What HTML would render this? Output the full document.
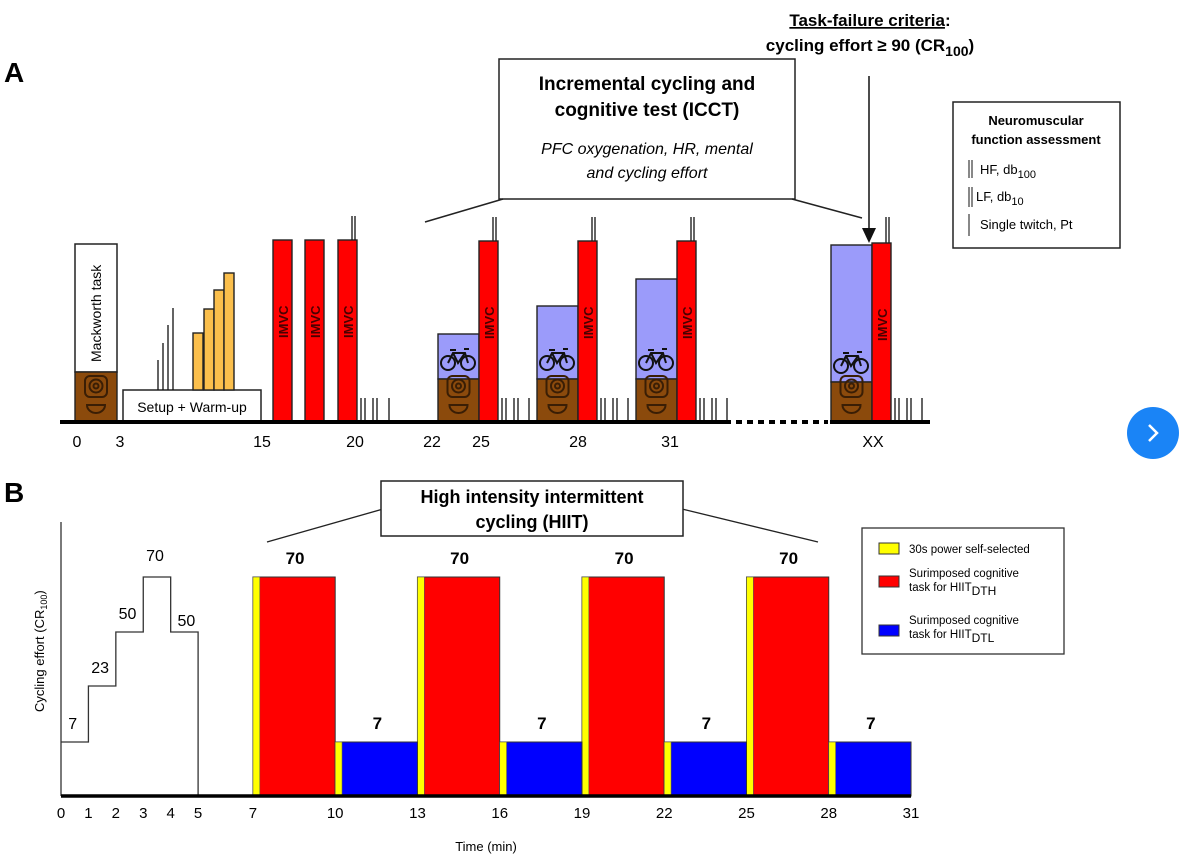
<!DOCTYPE html>
<html><head><meta charset="utf-8"><style>
html,body{margin:0;padding:0;background:#fff;}
svg{display:block;font-family:"Liberation Sans",Arial,sans-serif;}
</style></head><body>
<svg id="fig" width="1188" height="866" viewBox="0 0 1188 866" xmlns="http://www.w3.org/2000/svg">
<rect width="1188" height="866" fill="#fff"/>
<!-- Panel A -->
<text x="4" y="82" font-size="28" font-weight="bold">A</text>
<g font-weight="bold" font-size="17" text-anchor="middle">
<text x="870" y="26"><tspan text-decoration="underline">Task-failure criteria</tspan>:</text>
<text x="870" y="51">cycling effort  ≥ 90 (CR<tspan font-size="14" dy="5">100</tspan><tspan dy="-5">)</tspan></text>
</g>
<g>
<rect x="499" y="59" width="296" height="140" fill="#fff" stroke="#222" stroke-width="1.5"/>
<text x="647" y="90" font-size="19" font-weight="bold" text-anchor="middle">Incremental cycling and</text>
<text x="647" y="116" font-size="19" font-weight="bold" text-anchor="middle">cognitive test (ICCT)</text>
<text x="647" y="154" font-size="16" font-style="italic" text-anchor="middle">PFC oxygenation, HR, mental</text>
<text x="647" y="178" font-size="16" font-style="italic" text-anchor="middle">and cycling effort</text>
<line x1="503" y1="199" x2="425" y2="222" stroke="#222" stroke-width="1.5"/>
<line x1="792" y1="199" x2="862" y2="218" stroke="#222" stroke-width="1.5"/>
</g>
<g>
<line x1="869" y1="76" x2="869" y2="232" stroke="#111" stroke-width="1.5"/>
<polygon points="862,228 876,228 869,243" fill="#111"/>
</g>
<g>
<rect x="953" y="102" width="167" height="146" fill="#fff" stroke="#222" stroke-width="1.5"/>
<text x="1036" y="125" font-size="13" font-weight="bold" text-anchor="middle">Neuromuscular</text>
<text x="1036" y="144" font-size="13" font-weight="bold" text-anchor="middle">function assessment</text>
<line x1="969" y1="160" x2="969" y2="178" stroke="#111"/><line x1="972" y1="160" x2="972" y2="178" stroke="#111"/>
<text x="980" y="174" font-size="13">HF, db<tspan font-size="11" dy="4">100</tspan></text>
<line x1="969" y1="187" x2="969" y2="207" stroke="#111"/><line x1="972" y1="187" x2="972" y2="207" stroke="#111"/>
<text x="976" y="201" font-size="13">LF, db<tspan font-size="11" dy="4">10</tspan></text>
<line x1="969" y1="214" x2="969" y2="236" stroke="#111"/>
<text x="980" y="229" font-size="13">Single twitch, Pt</text>
</g>
<g id="panelA">
<rect x="75" y="244" width="42" height="128" fill="#fff" stroke="#222" stroke-width="1.5"/>
<text transform="translate(101,362) rotate(-90)" font-size="14">Mackworth task</text>
<rect x="123" y="390" width="138" height="32" fill="#fff" stroke="#222" stroke-width="1.5"/>
<text x="192" y="412" font-size="14" text-anchor="middle">Setup + Warm-up</text>
</g>
<g>
<line x1="60" y1="422" x2="731" y2="422" stroke="#000" stroke-width="4"/>
<line x1="736" y1="422" x2="828" y2="422" stroke="#000" stroke-width="4" stroke-dasharray="6,5"/>
<line x1="830" y1="422" x2="930" y2="422" stroke="#000" stroke-width="4"/>
</g>
<g id="aticks" font-size="16" text-anchor="middle"></g>

<!-- Panel B -->
<text x="4" y="502" font-size="28" font-weight="bold">B</text>
<g>
<line x1="383" y1="509" x2="267" y2="542" stroke="#222" stroke-width="1.3"/>
<line x1="682" y1="509" x2="818" y2="542" stroke="#222" stroke-width="1.3"/>
<rect x="381" y="481" width="302" height="55" fill="#fff" stroke="#222" stroke-width="1.5"/>
<text x="532" y="503" font-size="18" font-weight="bold" text-anchor="middle">High intensity intermittent</text>
<text x="532" y="528" font-size="18" font-weight="bold" text-anchor="middle">cycling (HIIT)</text>
</g>
<g>
<rect x="862" y="528" width="202" height="126" fill="#fff" stroke="#333" stroke-width="1.3"/>
<rect x="879" y="543" width="20" height="11" fill="#ffff00" stroke="#333"/>
<text x="909" y="553" font-size="11.5">30s power self-selected</text>
<rect x="879" y="576" width="20" height="11" fill="#ff0000" stroke="#333"/>
<text x="909" y="577" font-size="11.5">Surimposed cognitive</text>
<text x="909" y="591" font-size="11.5">task for HIIT<tspan font-size="12" dy="4">DTH</tspan></text>
<rect x="879" y="625" width="20" height="11" fill="#0000ff" stroke="#333"/>
<text x="909" y="624" font-size="11.5">Surimposed cognitive</text>
<text x="909" y="638" font-size="11.5">task for HIIT<tspan font-size="12" dy="4">DTL</tspan></text>
</g>
<text transform="translate(44,712) rotate(-90)" font-size="13">Cycling effort (CR<tspan font-size="9" dy="3">100</tspan><tspan dy="-3">)</tspan></text>
<text x="486" y="851" font-size="13" text-anchor="middle">Time (min)</text>
<g id="panelB"></g>

<g>
<circle cx="1153" cy="433" r="26" fill="#1a84f6"/>
<polyline points="1149,425 1157,433 1149,441" fill="none" stroke="#fff" stroke-width="2.5"/>
</g>
</svg>
<script>
// Panel B data
const warmupMinutes = [0, 1, 2, 3, 4, 5];
const warmupLevels = [7, 23, 50, 70, 50];
const hiitStarts = [7, 13, 19, 25];
const hiitHighLevel = [70, 70, 70, 70];
const recoveryStarts = [10, 16, 22, 28];
const recoveryLevel = [7, 7, 7, 7];
const xTickLabels = [0, 1, 2, 3, 4, 5, 7, 10, 13, 16, 19, 22, 25, 28, 31];
const phaseLength = 3;
const sprintLength = 0.25;

const NS = "http://www.w3.org/2000/svg";
const X0 = 61, PXMIN = 27.42, BASE = 796;
function xs(t) { return X0 + t * PXMIN; }
const lvAnchors = [0, 7, 23, 50, 70, 100];
const hAnchors = [0, 54, 110, 164, 219, 300];
function ys(v) {
  for (let i = 1; i < lvAnchors.length; i++) {
    if (v <= lvAnchors[i]) {
      const f = (v - lvAnchors[i-1]) / (lvAnchors[i] - lvAnchors[i-1]);
      return BASE - (hAnchors[i-1] + f * (hAnchors[i] - hAnchors[i-1]));
    }
  }
  return BASE - hAnchors[hAnchors.length-1];
}
function mk(tag, attrs, parent) {
  const e = document.createElementNS(NS, tag);
  for (const k in attrs) e.setAttribute(k, attrs[k]);
  parent.appendChild(e);
  return e;
}
const gB = document.getElementById('panelB');

let ax = mk('line', {x1: X0, y1: 522, x2: X0, y2: BASE, stroke: '#333', 'stroke-width': 1.3}, gB);



let d = 'M' + xs(warmupMinutes[0]) + ',' + ys(warmupLevels[0]);
for (let i = 0; i < warmupLevels.length; i++) {
  if (i > 0) d += ' L' + xs(warmupMinutes[i]) + ',' + ys(warmupLevels[i]);
  d += ' L' + xs(warmupMinutes[i+1]) + ',' + ys(warmupLevels[i]);
}
d += ' L' + xs(warmupMinutes[warmupMinutes.length-1]) + ',' + BASE;
let wp = mk('path', {d: d, fill: 'none', stroke: '#333', 'stroke-width': 1.3}, gB);


warmupLevels.forEach((v, i) => {
  const cx = (xs(warmupMinutes[i]) + xs(warmupMinutes[i+1])) / 2;
  let tx;
  if (i === warmupLevels.length - 1) tx = mk('text', {x: cx + 2, y: ys(v) - 6, 'font-size': 16, 'text-anchor': 'middle'}, gB);
  else tx = mk('text', {x: cx - 2, y: ys(v) - 13 + (i===3?-3:0), 'font-size': 16, 'text-anchor': 'middle'}, gB);
  tx.textContent = v;
  
  
});

hiitStarts.forEach((s, i) => {
  const v = hiitHighLevel[i];
  let r = mk('rect', {x: xs(s), y: ys(v), width: xs(s + phaseLength) - xs(s), height: BASE - ys(v), fill: '#ff0000', stroke: '#333', 'stroke-width': 1}, gB);
  
  
  let y = mk('rect', {x: xs(s), y: ys(v), width: xs(s + sprintLength) - xs(s), height: BASE - ys(v), fill: '#ffff00', stroke: '#555', 'stroke-width': 0.6}, gB);
  
  
  let t = mk('text', {x: xs(s + phaseLength / 2) + 1, y: ys(v) - 13, 'font-size': 17, 'font-weight': 'bold', 'text-anchor': 'middle'}, gB);
  t.textContent = v;
  
  
});
recoveryStarts.forEach((s, i) => {
  const v = recoveryLevel[i];
  let r = mk('rect', {x: xs(s), y: ys(v), width: xs(s + phaseLength) - xs(s), height: BASE - ys(v), fill: '#0000ff', stroke: '#333', 'stroke-width': 1}, gB);
  
  
  let y = mk('rect', {x: xs(s), y: ys(v), width: xs(s + sprintLength) - xs(s), height: BASE - ys(v), fill: '#ffff00', stroke: '#555', 'stroke-width': 0.6}, gB);
  
  
  let t = mk('text', {x: xs(s + phaseLength / 2) + 1, y: ys(v) - 13, 'font-size': 17, 'font-weight': 'bold', 'text-anchor': 'middle'}, gB);
  t.textContent = v;
  
  
});
let bl = mk('line', {x1: X0, y1: BASE, x2: xs(31), y2: BASE, stroke: '#000', 'stroke-width': 3.5}, gB);


xTickLabels.forEach(v => {
  let t = mk('text', {x: xs(v), y: 818, 'font-size': 15, 'text-anchor': 'middle'}, gB);
  t.textContent = v;
  
  
});

// Panel A
const gA = document.getElementById('panelA');
const BA = 422;
function camera(x, w) {
  const cx = x + w / 2;
  const g = mk('g', {fill: 'none', stroke: '#3a1e05', 'stroke-width': 2}, gA);
  
  
  mk('rect', {x: cx - 11, y: BA - 46, width: 22, height: 21, rx: 5}, g);
  mk('circle', {cx: cx, cy: BA - 36, r: 6.5}, g);
  mk('circle', {cx: cx, cy: BA - 36, r: 2.5}, g);
  mk('path', {d: `M${cx-9},${BA-17} A9,8 0 0 0 ${cx+9},${BA-17} Z`}, g);
}
function bike(cx, cy) {
  const g = mk('g', {fill: 'none', stroke: '#111', 'stroke-width': 2}, gA);
  
  
  mk('circle', {cx: cx - 10, cy: cy + 4, r: 7}, g);
  mk('circle', {cx: cx + 10, cy: cy + 4, r: 7}, g);
  mk('path', {d: `M${cx-10},${cy+4} L${cx-5},${cy-6} L${cx+7},${cy-6} L${cx+10},${cy+4} M${cx-5},${cy-6} L${cx},${cy+4} L${cx+7},${cy-6} M${cx-8},${cy-9} L${cx-2},${cy-9} M${cx+6},${cy-10} L${cx+11},${cy-10}`}, g);
}
function lines(xsArr, top, bottom) {
  xsArr.forEach(x => {
    const l = mk('line', {x1: x, y1: top, x2: x, y2: bottom || BA, stroke: '#111', 'stroke-width': 1.3}, gA);
    
    
  });
}
function rect(x, y, w, h, fill, name) {
  const r = mk('rect', {x: x, y: y, width: w, height: h, fill: fill, stroke: '#222', 'stroke-width': 1.4}, gA);
  
  
  return r;
}
function imvc(x, top) {
  rect(x, top, 19, BA - top, '#ff0000', 'imvc-bar');
  const t = mk('text', {transform: `translate(${x + 15},${top + 98}) rotate(-90)`, 'font-size': 13, 'font-weight': 'bold', fill: '#4a0000'}, gA);
  t.textContent = 'IMVC';
  
  
}
rect(75, 372, 42, 50, '#8b4a0c', 'mackworth-camera-block');
camera(75, 42);
[[158,360],[163,343],[168,325],[173,308]].forEach(p => lines([p[0]], p[1], 390));
[[193,333],[204,309],[214,290],[224,273]].forEach(p => rect(p[0], p[1], 10, 390 - p[1], '#fbbf4c', 'warmup-bar'));
imvc(273, 240); imvc(305, 240); imvc(338, 240);
lines([352, 355], 216, 240);
lines([361, 365, 373, 377, 389], 398);
[[438, 334, 379, 479, 241], [537, 306, 379, 578, 241], [636, 279, 379, 677, 241], [831, 245, 382, 872, 243]].forEach(s => {
  rect(s[0], s[1], 41, s[2] - s[1], '#9b9bfa', 'cycling-stage');
  rect(s[0], s[2], 41, BA - s[2], '#8b4a0c', 'cognitive-stage');
  camera(s[0], 41);
  bike(s[0] + 20, s[2] - 20);
  lines([s[3] + 14, s[3] + 17], 217, s[4]);
  imvc(s[3], s[4]);
  const b = s[3] + 23;
  lines([b, b + 4, b + 12, b + 16, b + 27], 398);
});
const aTicks = [[77,'0'],[120,'3'],[262,'15'],[355,'20'],[432,'22'],[481,'25'],[578,'28'],[670,'31'],[873,'XX']];
const ga = document.getElementById('aticks');
aTicks.forEach(p => {
  const t = mk('text', {x: p[0], y: 447}, ga);
  t.textContent = p[1];
  
  
});
</script>
</body></html>
